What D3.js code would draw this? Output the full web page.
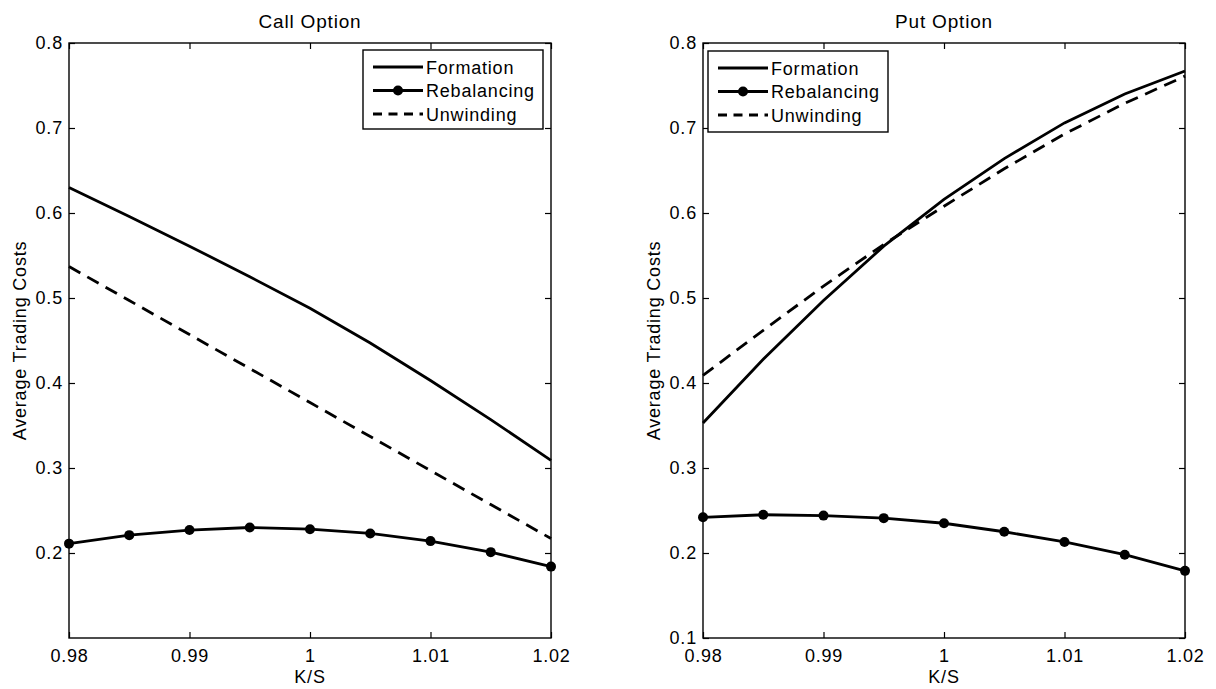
<!DOCTYPE html>
<html><head><meta charset="utf-8">
<script src="https://cdn.jsdelivr.net/npm/d3@7"></script>
<style>body{margin:0;background:#fff;} svg{display:block;font-family:"Liberation Sans",Arial,sans-serif;} text{letter-spacing:0.8px;}</style>
</head><body><div id="chart"></div>
<script>
const ks = [0.98, 0.985, 0.99, 0.995, 1.0, 1.005, 1.01, 1.015, 1.02];
const xTicks = [0.98, 0.99, 1.0, 1.01, 1.02];
const xTickLabels = ["0.98", "0.99", "1", "1.01", "1.02"];
const yTicksCall = [0.2, 0.3, 0.4, 0.5, 0.6, 0.7, 0.8];
const yTicksPut = [0.1, 0.2, 0.3, 0.4, 0.5, 0.6, 0.7, 0.8];
const callFormation = [0.630, 0.596, 0.561, 0.525, 0.488, 0.447, 0.403, 0.357, 0.309];
const callRebalancing = [0.211, 0.221, 0.227, 0.230, 0.228, 0.223, 0.214, 0.201, 0.184];
const callUnwinding = [0.537, 0.497, 0.457, 0.417, 0.377, 0.337, 0.297, 0.257, 0.217];
const putFormation = [0.353, 0.428, 0.497, 0.561, 0.616, 0.664, 0.706, 0.740, 0.767];
const putRebalancing = [0.242, 0.245, 0.244, 0.241, 0.235, 0.225, 0.213, 0.198, 0.179];
const putUnwinding = [0.409, 0.462, 0.514, 0.563, 0.608, 0.652, 0.693, 0.729, 0.761];
const seriesNames = ["Formation", "Rebalancing", "Unwinding"];

const W = 1216, H = 689;
const svg = d3.select("#chart").append("svg").attr("width", W).attr("height", H);

const panels = [
  {title: "Call Option", left: 69, right: 551, yTicks: yTicksCall,
   data: [callFormation, callRebalancing, callUnwinding], legend: {x: 363, y: 50, w: 180, h: 79}},
  {title: "Put Option", left: 703, right: 1185, yTicks: yTicksPut,
   data: [putFormation, putRebalancing, putUnwinding], legend: {x: 708, y: 51, w: 180, h: 81}}
];
const plotTop = 43, plotBottom = 638;
const FS = 18;

panels.forEach(p => {
  const x = d3.scaleLinear().domain([0.98, 1.02]).range([p.left, p.right]);
  const y = d3.scaleLinear().domain([0.1, 0.8]).range([plotBottom, plotTop]);
  const g = svg.append("g");

  const fmtX = d => xTickLabels[xTicks.indexOf(d)];
  g.append("g").attr("transform", `translate(0,${plotBottom})`)
    .call(d3.axisBottom(x).tickValues(xTicks).tickFormat(fmtX).tickSizeInner(-6).tickSizeOuter(0).tickPadding(10))
    .call(a => { a.select(".domain").remove();
      a.selectAll("text").attr("font-size", FS).attr("font-family", null).attr("fill", "#000").attr("dy", null).attr("y", 24); });
  g.append("g").attr("transform", `translate(0,${plotTop})`)
    .call(d3.axisTop(x).tickValues(xTicks).tickFormat("").tickSizeInner(-6).tickSizeOuter(0))
    .call(a => a.select(".domain").remove());
  g.append("g").attr("transform", `translate(${p.left},0)`)
    .call(d3.axisLeft(y).tickValues(p.yTicks).tickFormat(d3.format(".1f")).tickSizeInner(-6).tickSizeOuter(0).tickPadding(6))
    .call(a => { a.select(".domain").remove();
      a.selectAll("text").attr("font-size", FS).attr("font-family", null).attr("fill", "#000").attr("x", -6); });
  g.append("g").attr("transform", `translate(${p.right},0)`)
    .call(d3.axisRight(y).tickValues(p.yTicks).tickFormat("").tickSizeInner(-6).tickSizeOuter(0))
    .call(a => a.select(".domain").remove());
  g.selectAll(".tick line").attr("stroke", "#000").attr("stroke-width", 1.2);

  g.append("rect").attr("x", p.left).attr("y", plotTop).attr("width", p.right - p.left).attr("height", plotBottom - plotTop)
    .attr("fill", "none").attr("stroke", "#000").attr("stroke-width", 1.4);

  const line = d3.line().x((d, i) => x(ks[i])).y(d => y(d));
  g.append("path").datum(p.data[0]).attr("d", line).attr("fill", "none").attr("stroke", "#000").attr("stroke-width", 2.8);
  g.append("path").datum(p.data[2]).attr("d", line).attr("fill", "none").attr("stroke", "#000").attr("stroke-width", 2.8)
    .attr("stroke-dasharray", "13,8");
  g.append("path").datum(p.data[1]).attr("d", line).attr("fill", "none").attr("stroke", "#000").attr("stroke-width", 2.8);
  g.selectAll("circle.m").data(p.data[1]).enter().append("circle").attr("class", "m")
    .attr("cx", (d, i) => x(ks[i])).attr("cy", d => y(d)).attr("r", 5).attr("fill", "#000");

  g.append("text").attr("x", (p.left + p.right) / 2).attr("y", 28).attr("text-anchor", "middle")
    .attr("font-size", 19).text(p.title);
  g.append("text").attr("x", (p.left + p.right) / 2).attr("y", 683).attr("text-anchor", "middle")
    .attr("font-size", FS).text("K/S");
  g.append("text").attr("transform", `translate(${p.left - 43},${(plotTop + plotBottom) / 2}) rotate(-90)`)
    .attr("text-anchor", "middle").attr("font-size", FS).text("Average Trading Costs");

  const L = p.legend;
  const lg = g.append("g");
  lg.append("rect").attr("x", L.x).attr("y", L.y).attr("width", L.w).attr("height", L.h)
    .attr("fill", "#fff").attr("stroke", "#000").attr("stroke-width", 1.4);
  const rowH = 23.5, y0 = L.y + 17;
  seriesNames.forEach((name, i) => {
    const yy = y0 + i * rowH;
    const ln = lg.append("line").attr("x1", L.x + 10).attr("x2", L.x + 60).attr("y1", yy).attr("y2", yy)
      .attr("stroke", "#000").attr("stroke-width", 2.8);
    if (name === "Unwinding") ln.attr("stroke-dasharray", "9,6.5");
    if (name === "Rebalancing") lg.append("circle").attr("cx", L.x + 35).attr("cy", yy).attr("r", 5).attr("fill", "#000");
    lg.append("text").attr("x", L.x + 63).attr("y", yy + 6.5).attr("font-size", FS).text(name);
  });
});
</script></body></html>
